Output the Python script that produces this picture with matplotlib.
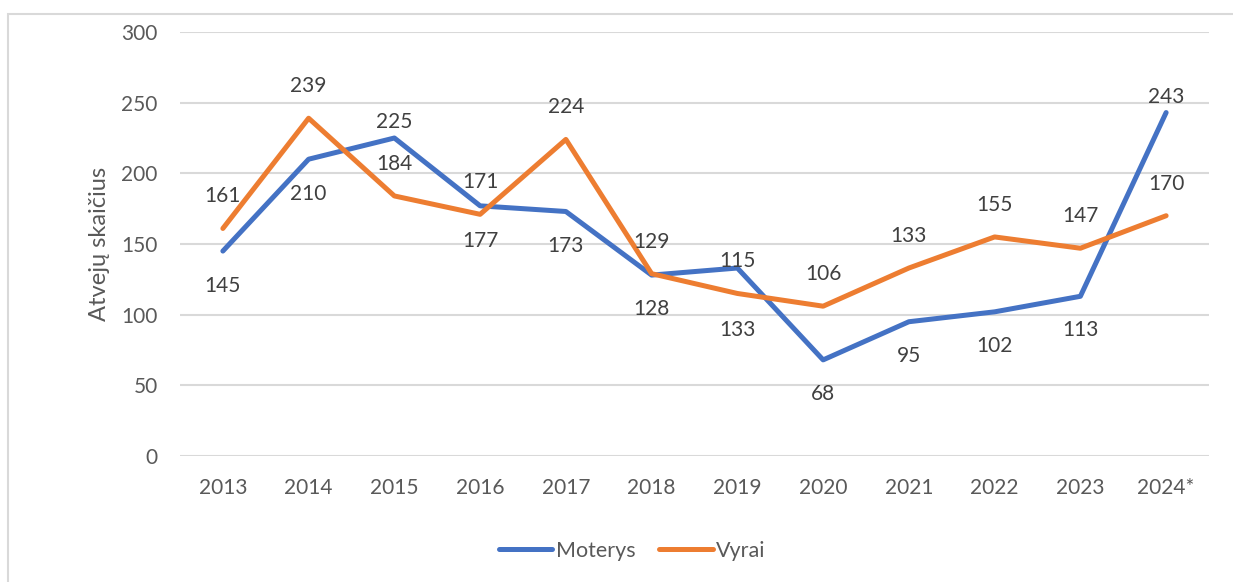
import matplotlib.pyplot as plt
from matplotlib.patches import Rectangle
import numpy as np

plt.rcParams['font.family'] = ['Lato', 'DejaVu Sans']

years = ['2013', '2014', '2015', '2016', '2017', '2018', '2019', '2020', '2021', '2022', '2023', '2024*']
moterys = [145, 210, 225, 177, 173, 128, 133, 68, 95, 102, 113, 243]
vyrai = [161, 239, 184, 171, 224, 129, 115, 106, 133, 155, 147, 170]

# label offsets in pixels (vertical), positive = above the point
moterys_off = [-35, -35, 16, -35, -35, -34, -62, -34, -34, -34, -34, 16]
vyrai_off = [32] * 12

blue = '#4472C4'
orange = '#ED7D31'
grid_col = '#D9D9D9'
txt_col = '#595959'
lbl_col = '#404040'

fig = plt.figure(figsize=(12.33, 5.82), dpi=100)
ax = fig.add_axes([180 / 1233, 1 - 456 / 582, (1209 - 180) / 1233, (456 - 32) / 582])

# chart border
fig.patches.append(Rectangle((8 / 1233, -0.1), 1.2, 1 - 14 / 582 + 0.1, transform=fig.transFigure,
                             fill=False, edgecolor=grid_col, linewidth=1.5))

x = np.arange(len(years))
ax.plot(x, moterys, color=blue, linewidth=3.6, label='Moterys', solid_capstyle='round', zorder=3)
ax.plot(x, vyrai, color=orange, linewidth=3.6, label='Vyrai', solid_capstyle='round', zorder=3)

for xi, v, off in zip(x, moterys, moterys_off):
    ax.annotate(str(v), (xi, v), xytext=(0, off * 0.72), textcoords='offset points',
                ha='center', va='center', fontsize=15, color=lbl_col, zorder=4)
for xi, v, off in zip(x, vyrai, vyrai_off):
    ax.annotate(str(v), (xi, v), xytext=(0, off * 0.72), textcoords='offset points',
                ha='center', va='center', fontsize=15, color=lbl_col, zorder=4)

ax.set_xlim(-0.5, len(years) - 0.5)
ax.set_ylim(0, 300)
ax.set_yticks(range(0, 301, 50))
ax.set_xticks(x)
ax.set_xticklabels(years)
ax.tick_params(length=0, labelsize=15, labelcolor=txt_col)
ax.tick_params(axis='x', pad=16)
ax.tick_params(axis='y', pad=16)
ax.grid(axis='y', color=grid_col, linewidth=1.5)
ax.set_axisbelow(True)
for s in ax.spines.values():
    s.set_visible(False)
ax.set_ylabel('Atvejų skaičius', fontsize=17, color=txt_col, labelpad=8)

fig.legend(loc='center', bbox_to_anchor=(632 / 1233, 1 - 551 / 582), ncol=2, frameon=False,
           fontsize=15.5, labelcolor=txt_col, handlelength=2.5, handletextpad=0.15, columnspacing=1.1)

fig.savefig('out.png', dpi=100)
